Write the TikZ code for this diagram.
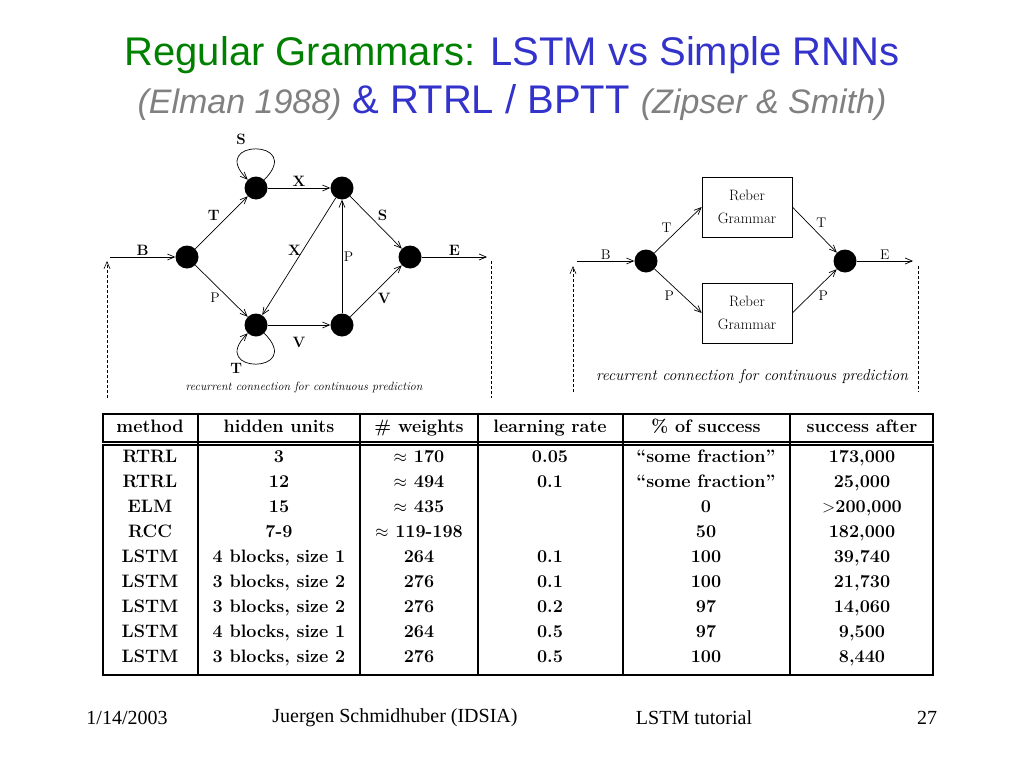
\documentclass[tikz,border=0pt]{standalone}
\usepackage{fontspec}
\usetikzlibrary{arrows,arrows.meta}
\newfontfamily\titlefont{Liberation Sans}
\newfontfamily\footfont{Liberation Serif}
\definecolor{titlegreen}{RGB}{0,128,0}
\definecolor{titleblue}{RGB}{51,51,204}
\definecolor{titlegray}{RGB}{128,128,128}

\begin{document}
\begin{tikzpicture}[x=1pt,y=1pt,>={Straight Barb[length=7pt,width=6pt]}]
    \tikzset{state/.style = {shape=circle, fill=black, minimum size=23pt, inner sep=0pt}}
    \tikzset{sym/.style = {font=\fontsize{15}{17}\selectfont\bfseries, inner sep=1.5pt}}
    \tikzset{lbl/.style = {font=\fontsize{14}{16}\selectfont, inner sep=1.5pt}}
    \tikzset{reber/.style = {shape=rectangle, draw, line width=0.6pt, minimum width=90pt, minimum height=60pt, align=center, font=\fontsize{15}{23}\selectfont}}
    \tikzset{edge/.style = {draw, line width=0.7pt, ->}}
    \tikzset{feedback/.style = {draw, line width=0.6pt, dash pattern=on 3pt off 2pt}}
    \tikzset{cell/.style = {font=\fontsize{18}{20}\selectfont\bfseries, inner sep=0pt, text height=12.5pt, text depth=3.5pt}}
    \tikzset{rule/.style = {draw, line width=1.3pt}}
    \tikzset{footer/.style = {font=\footfont\fontsize{20}{24}\selectfont}}

    \useasboundingbox (0,0) rectangle (1024,-768);

    % title
    \node[font=\titlefont\fontsize{40}{48}\selectfont] (title) at (512,-55)
        {\color{titlegreen}Regular Grammars: \color{titleblue}LSTM vs Simple RNNs};
    \node[font=\titlefont\fontsize{40}{48}\selectfont] (subtitle) at (512,-103)
        {{\fontsize{34}{40}\selectfont\itshape\color{titlegray}(Elman 1988)} {\color{titleblue}\& RTRL / BPTT} {\fontsize{34}{40}\selectfont\itshape\color{titlegray}(Zipser \& Smith)}};

    % reber grammar: vertices
    \node[state] (b1) at (187,-257) {};
    \node[state] (s1) at (256,-188) {};
    \node[state] (s2) at (256,-325) {};
    \node[state] (s3) at (342,-188) {};
    \node[state] (s4) at (342,-325) {};
    \node[state] (e1) at (410,-257) {};
    \coordinate (in1) at (110,-257);
    \coordinate (out1) at (487,-257);

    % reber grammar: edges
    \draw[edge] (in1) -- node[sym, above] {B} (b1);
    \draw[edge] (b1) -- node[sym, above left] {T} (s1);
    \draw[edge] (b1) -- node[lbl, below left] {P} (s2);
    \draw[edge] (s1) -- node[sym, above] {X} (s3);
    \draw[edge] (s3) -- node[sym, left, pos=0.45] {X} (s2);
    \draw[edge] (s4) -- node[lbl, right] {P} (s3);
    \draw[edge] (s3) -- node[sym, above right] {S} (e1);
    \draw[edge] (s2) -- node[sym, below=10pt] {V} (s4);
    \draw[edge] (s4) -- node[sym, below right] {V} (e1);
    \draw[edge] (e1) -- node[sym, above] {E} (out1);
    \draw[edge] (s1) to[out=45, in=135, looseness=9] node[sym, above left, pos=0.6, yshift=4pt] {S} (s1);
    \draw[edge] (s2) to[out=-45, in=-135, looseness=9] node[sym, below left, pos=0.65] {T} (s2);

    % reber grammar: recurrent connection
    \coordinate (fb1a) at (107,-398);
    \coordinate (fb1b) at (107,-261);
    \coordinate (fb1c) at (491,-261);
    \coordinate (fb1d) at (491,-398);
    \draw[feedback, ->] (fb1a) -- (fb1b);
    \draw[feedback] (fb1c) -- (fb1d);
    \node[font=\fontsize{12}{14}\selectfont\itshape] (cap1) at (304,-387) {recurrent connection for continuous prediction};

    % embedded reber grammar: vertices
    \node[state] (b2) at (646,-261) {};
    \node[state] (e2) at (845,-261) {};
    \node[reber] (rg1) at (747,-207) {Reber\\Grammar};
    \node[reber] (rg2) at (747,-313) {Reber\\Grammar};
    \coordinate (in2) at (577,-261);
    \coordinate (out2) at (913,-261);

    % embedded reber grammar: edges
    \draw[edge] (in2) -- node[lbl, above] {B} (b2);
    \draw[edge] (b2) -- node[lbl, above left, pos=0.4] {T} (rg1.west);
    \draw[edge] (b2) -- node[lbl, below left, pos=0.45] {P} (rg2.west);
    \draw[edge] (rg1.east) -- node[lbl, above right] {T} (e2);
    \draw[edge] (rg2.east) -- node[lbl, below right, pos=0.55] {P} (e2);
    \draw[edge] (e2) -- node[lbl, above] {E} (out2);

    % embedded reber grammar: recurrent connection
    \coordinate (fb2a) at (573,-392);
    \coordinate (fb2b) at (573,-266);
    \coordinate (fb2c) at (918,-266);
    \coordinate (fb2d) at (918,-392);
    \draw[feedback, ->] (fb2a) -- (fb2b);
    \draw[feedback] (fb2c) -- (fb2d);
    \node[font=\fontsize{15.8}{18}\selectfont\itshape] (cap2) at (752,-377) {recurrent connection for continuous prediction};

    % table
    \draw[rule] (103,-414) rectangle (933,-442);
    \draw[rule] (103,-445) rectangle (933,-675);
    \foreach \x in {198,360,478,623,790}
        \draw[rule] (\x,-414) -- (\x,-675);
    \foreach \x/\t [count=\c] in {150/method, 279/hidden units, 419/{\# weights},
        550/learning rate, 706/{\% of success}, 862/success after}
        \node[cell] (h\c) at (\x,-428) {\t};
    \foreach \meth/\hid/\wts/\rate/\pct/\after [count=\r] in {
        RTRL/3/{$\approx$ 170}/0.05/{``some fraction''}/{173,000},
        RTRL/12/{$\approx$ 494}/0.1/{``some fraction''}/{25,000},
        ELM/15/{$\approx$ 435}/{}/0/{$>$200,000},
        RCC/7-9/{$\approx$ 119-198}/{}/50/{182,000},
        LSTM/{4 blocks, size 1}/264/0.1/100/{39,740},
        LSTM/{3 blocks, size 2}/276/0.1/100/{21,730},
        LSTM/{3 blocks, size 2}/276/0.2/97/{14,060},
        LSTM/{4 blocks, size 1}/264/0.5/97/{9,500},
        LSTM/{3 blocks, size 2}/276/0.5/100/{8,440}}
    {
        \node[cell] (m\r) at (150,{-433-25*\r}) {\meth};
        \node[cell] (u\r) at (279,{-433-25*\r}) {\hid};
        \node[cell] (w\r) at (419,{-433-25*\r}) {\wts};
        \node[cell] (l\r) at (550,{-433-25*\r}) {\rate};
        \node[cell] (p\r) at (706,{-433-25*\r}) {\pct};
        \node[cell] (a\r) at (862,{-433-25*\r}) {\after};
    }

    % footer
    \node[footer] (date) at (127,-718) {1/14/2003};
    \node[footer] (author) at (395,-718) {Juergen Schmidhuber (IDSIA)};
    \node[footer] (topic) at (694,-718) {LSTM tutorial};
    \node[footer] (page) at (927,-718) {27};
\end{tikzpicture}
\end{document}
